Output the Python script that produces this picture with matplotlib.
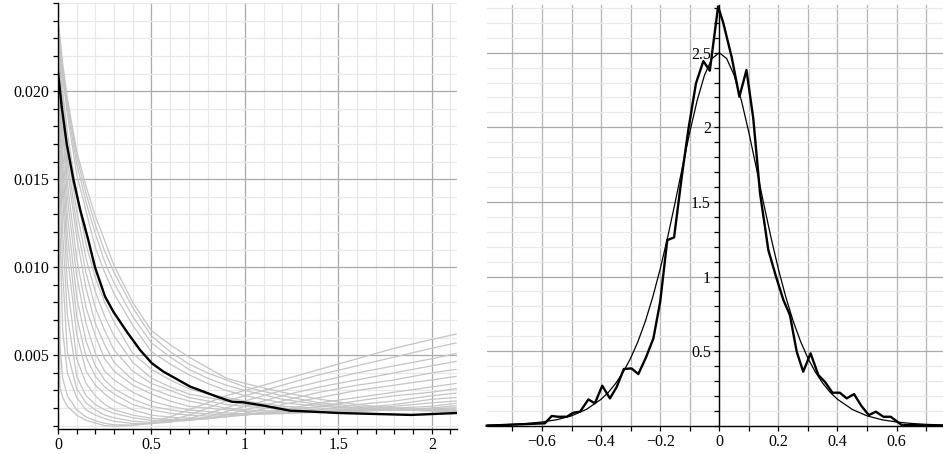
import numpy as np
import matplotlib
matplotlib.use("Agg")
import matplotlib.pyplot as plt
from matplotlib.ticker import MultipleLocator, FixedLocator, FixedFormatter

plt.rcParams['font.family'] = ['Liberation Serif', 'DejaVu Serif']

# ---------------- Left panel data ----------------
grid_x = [0, 0.01, 0.025, 0.05, 0.1, 0.15, 0.2, 0.25, 0.3, 0.4, 0.5, 0.6, 0.7,
          0.8, 0.9, 1.0, 1.2, 1.4, 1.6, 1.8, 2.0, 2.13]

gray_00 = [0.024, 0.0032, 0.0026, 0.0021, 0.0016, 0.0013, 0.00115, 0.0010, 0.00097, 0.00102, 0.00118, 0.0015, 0.0019, 0.0023, 0.0027, 0.0030, 0.0036, 0.0042, 0.0048, 0.0054, 0.0059, 0.0062]
gray_01 = [0.024, 0.0056, 0.0037, 0.0027, 0.0019, 0.0015, 0.00128, 0.00113, 0.00105, 0.00103, 0.00112, 0.0013, 0.0016, 0.0020, 0.0024, 0.0027, 0.0033, 0.0039, 0.0044, 0.0049, 0.0054, 0.0057]
gray_02 = [0.024, 0.0125, 0.0064, 0.0040, 0.0026, 0.0019, 0.0016, 0.0014, 0.00125, 0.00112, 0.00112, 0.0012, 0.0014, 0.0017, 0.0020, 0.0024, 0.0030, 0.0035, 0.0040, 0.0044, 0.0048, 0.0051]
gray_03 = [0.024, 0.0152, 0.0097, 0.0052, 0.0031, 0.0023, 0.0019, 0.0016, 0.00145, 0.00125, 0.00118, 0.00122, 0.0013, 0.0015, 0.0018, 0.0021, 0.0027, 0.0032, 0.0036, 0.0040, 0.0044, 0.00465]
gray_04 = [0.024, 0.0166, 0.0120, 0.0073, 0.0038, 0.0027, 0.0022, 0.0019, 0.0017, 0.00145, 0.0013, 0.00128, 0.0013, 0.0014, 0.0016, 0.0019, 0.0024, 0.0029, 0.0033, 0.0036, 0.0040, 0.0042]
gray_05 = [0.024, 0.0176, 0.0140, 0.0091, 0.0048, 0.0034, 0.0027, 0.0022, 0.0019, 0.0016, 0.00142, 0.00135, 0.00135, 0.0014, 0.0015, 0.0017, 0.0022, 0.0026, 0.0030, 0.0033, 0.0036, 0.0038]
gray_06 = [0.024, 0.0191, 0.0149, 0.0107, 0.0062, 0.0041, 0.0033, 0.0028, 0.0024, 0.0019, 0.0016, 0.00148, 0.00143, 0.00143, 0.0015, 0.0016, 0.0019, 0.0023, 0.0026, 0.0029, 0.0032, 0.0034]
gray_07 = [0.024, 0.0197, 0.0159, 0.0119, 0.0072, 0.0049, 0.0038, 0.0032, 0.0028, 0.0022, 0.0019, 0.0017, 0.0016, 0.00155, 0.00155, 0.0016, 0.0018, 0.0021, 0.0024, 0.0027, 0.0029, 0.0031]
gray_08 = [0.024, 0.0201, 0.0167, 0.0130, 0.0083, 0.0058, 0.0044, 0.0036, 0.0031, 0.0025, 0.0021, 0.0019, 0.00175, 0.00167, 0.00163, 0.00163, 0.0017, 0.0019, 0.0022, 0.0024, 0.0027, 0.00285]
gray_09 = [0.024, 0.0208, 0.0178, 0.0140, 0.0095, 0.0068, 0.0051, 0.0041, 0.0036, 0.0029, 0.0024, 0.0021, 0.0019, 0.0018, 0.00172, 0.00168, 0.00168, 0.0018, 0.0020, 0.0022, 0.0025, 0.0026]
gray_10 = [0.024, 0.0212, 0.0183, 0.0148, 0.0105, 0.0077, 0.0061, 0.0048, 0.0041, 0.0033, 0.0028, 0.0024, 0.0021, 0.0020, 0.0019, 0.0018, 0.00172, 0.00175, 0.0019, 0.0021, 0.0023, 0.0024]
gray_11 = [0.024, 0.0215, 0.0188, 0.0156, 0.0117, 0.0088, 0.0068, 0.0056, 0.0046, 0.0036, 0.0031, 0.0027, 0.0024, 0.0022, 0.0020, 0.0019, 0.0018, 0.00175, 0.0018, 0.0020, 0.0021, 0.00227]
gray_12 = [0.024, 0.0218, 0.0192, 0.0162, 0.0124, 0.0097, 0.0077, 0.0064, 0.0053, 0.0041, 0.0034, 0.0030, 0.0026, 0.0024, 0.0022, 0.0021, 0.0019, 0.0018, 0.0018, 0.0019, 0.0020, 0.00213]
gray_13 = [0.024, 0.0220, 0.0196, 0.0169, 0.0132, 0.0105, 0.0086, 0.0072, 0.0061, 0.0046, 0.0037, 0.0032, 0.0028, 0.0026, 0.0024, 0.0022, 0.0020, 0.0019, 0.00185, 0.0019, 0.00195, 0.00202]
gray_14 = [0.024, 0.0222, 0.0200, 0.0177, 0.0142, 0.0113, 0.0094, 0.0080, 0.0069, 0.0051, 0.0042, 0.0036, 0.0031, 0.0028, 0.0026, 0.0024, 0.0021, 0.0020, 0.0019, 0.0019, 0.00192, 0.00194]
gray_15 = [0.024, 0.0225, 0.0208, 0.0187, 0.0153, 0.0132, 0.0111, 0.0097, 0.0085, 0.0067, 0.0052, 0.0045, 0.0039, 0.0034, 0.0030, 0.0027, 0.0023, 0.0021, 0.0020, 0.0019, 0.00188, 0.00188]
gray_16 = [0.024, 0.0227, 0.0210, 0.0190, 0.0159, 0.0137, 0.0119, 0.0103, 0.0091, 0.0072, 0.0057, 0.0049, 0.0042, 0.0037, 0.0033, 0.0030, 0.0025, 0.0022, 0.0020, 0.0019, 0.00185, 0.00184]
gray_17 = [0.024, 0.0229, 0.0213, 0.0193, 0.0163, 0.0142, 0.0124, 0.0109, 0.0097, 0.0077, 0.0061, 0.0052, 0.0045, 0.0040, 0.0036, 0.0032, 0.0027, 0.0023, 0.0021, 0.0019, 0.00183, 0.0018]
gray_18 = [0.0241, 0.0231, 0.0216, 0.0196, 0.0166, 0.0146, 0.0129, 0.0115, 0.0101, 0.0080, 0.0064, 0.0056, 0.0049, 0.0043, 0.0037, 0.0034, 0.0029, 0.0025, 0.0022, 0.0020, 0.00185, 0.0018]

black_x = [0, 0.02, 0.047, 0.082, 0.118, 0.162, 0.198, 0.252, 0.296, 0.368, 0.439,
           0.502, 0.564, 0.707, 0.85, 0.93, 0.99, 1.1, 1.243, 1.35, 1.5, 1.89, 2.135]
black_y = [0.0211, 0.0191, 0.0170, 0.0150, 0.0133, 0.01155, 0.0100, 0.00833, 0.00748,
           0.00634, 0.0053, 0.00455, 0.00407, 0.00322, 0.00265, 0.00236, 0.00233,
           0.00214, 0.00185, 0.0018, 0.00172, 0.00161, 0.00172]

left_xticks = [0, 0.5, 1, 1.5, 2]
left_xlabels = ["0", "0.5", "1", "1.5", "2"]
left_yticks = [0.005, 0.010, 0.015, 0.020]
left_ylabels = ["0.005", "0.010", "0.015", "0.020"]

# ---------------- Right panel data ----------------
emp_x = [-0.787, -0.59, -0.567, -0.545, -0.516, -0.494, -0.471, -0.443, -0.421, -0.396,
         -0.37, -0.347, -0.323, -0.297, -0.274, -0.248, -0.223, -0.2, -0.176, -0.153,
         -0.127, -0.105, -0.079, -0.054, -0.032, -0.004, 0.0135, 0.042, 0.068, 0.092,
         0.115, 0.138, 0.166, 0.192, 0.217, 0.239, 0.262, 0.284, 0.309, 0.335, 0.357,
         0.383, 0.408, 0.431, 0.456, 0.481, 0.506, 0.53, 0.555, 0.58, 0.617, 0.757]
emp_y = [0.0, 0.016, 0.065, 0.06, 0.06, 0.087, 0.094, 0.176, 0.15, 0.268,
         0.183, 0.26, 0.38, 0.384, 0.346, 0.458, 0.585, 0.83, 1.244, 1.262,
         1.669, 1.98, 2.294, 2.444, 2.38, 2.81, 2.70, 2.47, 2.205, 2.384,
         2.06, 1.557, 1.177, 0.999, 0.842, 0.742, 0.496, 0.362, 0.485, 0.34, 0.295,
         0.221, 0.221, 0.183, 0.212, 0.132, 0.071, 0.094, 0.06, 0.06, 0.005, 0.0]

fit_x = [-0.8, -0.75, -0.7, -0.65, -0.6, -0.55, -0.5, -0.45, -0.4, -0.375, -0.35,
         -0.325, -0.3, -0.275, -0.25, -0.225, -0.2, -0.175, -0.15, -0.125, -0.1,
         -0.075, -0.05, -0.025, 0.0, 0.025, 0.05, 0.075, 0.1, 0.125, 0.15, 0.175,
         0.2, 0.225, 0.25, 0.275, 0.3, 0.325, 0.35, 0.375, 0.4, 0.45, 0.5, 0.55,
         0.6, 0.65, 0.7, 0.75, 0.8]
fit_y = [0.0034, 0.0055, 0.009, 0.015, 0.0247, 0.040, 0.066, 0.109, 0.177, 0.224, 0.285,
         0.360, 0.452, 0.565, 0.701, 0.863, 1.050, 1.261, 1.491, 1.731, 1.966,
         2.179, 2.350, 2.461, 2.5, 2.461, 2.350, 2.179, 1.966, 1.731, 1.491, 1.261,
         1.050, 0.863, 0.701, 0.565, 0.452, 0.360, 0.285, 0.224, 0.177, 0.109, 0.066, 0.040,
         0.0247, 0.015, 0.009, 0.0055, 0.0034]

right_xticks = [-0.6, -0.4, -0.2, 0, 0.2, 0.4, 0.6]
right_xlabels = ["\u22120.6", "\u22120.4", "\u22120.2", "0", "0.2", "0.4", "0.6"]
right_yticks = [0.5, 1, 1.5, 2, 2.5]
right_ylabels = ["0.5", "1", "1.5", "2", "2.5"]

# ---------------- Figure ----------------
W, H = 943, 454
fig = plt.figure(figsize=(W / 100, H / 100), dpi=100)

def px_axes(x0, y_top, x1, y_bot):
    return fig.add_axes([x0 / W, (H - y_bot) / H, (x1 - x0) / W, (y_bot - y_top) / H])

MAJOR_GRID = '#a8a8a8'
MINOR_GRID = '#e8e8e8'
FS = 11.5

# Left panel
ax1 = px_axes(58, 3.3, 457, 429)
ax1.set_xlim(0, 2.135)
ax1.set_ylim(0.00081, 0.025)
ax1.xaxis.set_major_locator(FixedLocator(left_xticks))
ax1.xaxis.set_major_formatter(FixedFormatter(left_xlabels))
ax1.xaxis.set_minor_locator(MultipleLocator(0.1))
ax1.yaxis.set_major_locator(FixedLocator(left_yticks))
ax1.yaxis.set_major_formatter(FixedFormatter(left_ylabels))
ax1.yaxis.set_minor_locator(MultipleLocator(0.001))
ax1.grid(which='minor', color=MINOR_GRID, linewidth=0.9)
ax1.grid(which='major', color=MAJOR_GRID, linewidth=0.9)
ax1.set_axisbelow(True)
for s in ['top', 'right']:
    ax1.spines[s].set_visible(False)
for s in ['left', 'bottom']:
    ax1.spines[s].set_linewidth(1.0)
ax1.tick_params(which='both', direction='out', length=3.5, width=0.9, labelsize=FS, pad=2.5)

grays = [gray_00, gray_01, gray_02, gray_03, gray_04, gray_05, gray_06, gray_07,
         gray_08, gray_09, gray_10, gray_11, gray_12, gray_13, gray_14, gray_15,
         gray_16, gray_17, gray_18]
for g in grays:
    ax1.plot(grid_x, g, color='#c4c4c4', linewidth=0.9, zorder=2)
ax1.plot(black_x, black_y, color='black', linewidth=1.7, zorder=3)

# Right panel
ax2 = px_axes(487, 5.0, 943, 425.7)
ax2.set_xlim(-0.786, 0.757)
ax2.set_ylim(0, 2.82)
ax2.xaxis.set_major_locator(FixedLocator(right_xticks))
ax2.xaxis.set_major_formatter(FixedFormatter(right_xlabels))
ax2.xaxis.set_minor_locator(MultipleLocator(0.1))
ax2.yaxis.set_major_locator(FixedLocator(right_yticks))
ax2.yaxis.set_major_formatter(FixedFormatter(right_ylabels))
ax2.yaxis.set_minor_locator(MultipleLocator(0.1))
ax2.grid(which='minor', axis='y', color=MINOR_GRID, linewidth=0.9)
ax2.grid(which='major', axis='y', color=MAJOR_GRID, linewidth=0.9)
ax2.grid(which='both', axis='x', color='#b4b4b4', linewidth=0.9)
ax2.set_axisbelow(True)
for s in ['top', 'right']:
    ax2.spines[s].set_visible(False)
ax2.spines['left'].set_position(('data', 0))
ax2.spines['left'].set_linewidth(1.0)
ax2.spines['bottom'].set_linewidth(1.0)
ax2.tick_params(which='both', direction='out', length=3.5, width=0.9, labelsize=FS, pad=2.5)

ax2.plot(fit_x, fit_y, color='black', linewidth=0.9, zorder=3)
ax2.plot(emp_x, emp_y, color='black', linewidth=1.7, zorder=4, clip_on=False)

fig.savefig('out.png', dpi=100)
